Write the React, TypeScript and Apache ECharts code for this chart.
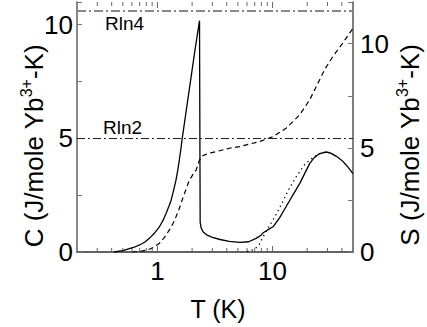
import React, { useEffect, useRef } from "react";
import * as echarts from "echarts";

// ---- Data ----
const cTemps = [0.42, 0.5, 0.57, 0.64, 0.7, 0.78, 0.85, 0.95, 1.04, 1.12, 1.19, 1.26, 1.315, 1.383, 1.448, 1.502, 1.548, 1.597, 1.64, 1.78, 1.94, 2.115, 2.32, 2.35, 2.4, 2.5, 2.7, 3.0, 3.5, 4.2, 5.2, 6.2, 7.2, 8.0, 8.3, 9.0, 10.1, 11.5, 13.1, 15, 17.2, 19, 21, 23, 25.6, 29.3, 32, 35.9, 40, 43.8, 50];
const cValues = [0, 0.06, 0.15, 0.23, 0.31, 0.44, 0.6, 0.85, 1.11, 1.4, 1.71, 2.02, 2.28, 2.72, 3.16, 3.6, 4.04, 4.52, 4.99, 6.23, 7.54, 8.86, 10.18, 1.3, 1.05, 0.88, 0.74, 0.64, 0.55, 0.47, 0.42, 0.45, 0.6, 0.75, 0.85, 0.96, 1.11, 1.5, 1.99, 2.5, 3.01, 3.45, 3.89, 4.15, 4.33, 4.4, 4.35, 4.21, 4.03, 3.82, 3.45];

const dotTemps = [6.0, 7.0, 7.7, 8.3, 9.0, 10, 11, 12.5, 14, 16, 19, 23, 27, 30, 34];
const dotValues = [0.02, 0.12, 0.35, 0.68, 1.0, 1.38, 1.75, 2.3, 2.8, 3.3, 3.85, 4.2, 4.37, 4.4, 4.28];

const sTemps = [0.6, 0.7, 0.82, 0.92, 1.04, 1.15, 1.27, 1.36, 1.45, 1.55, 1.66, 1.78, 1.9, 2.05, 2.17, 2.32, 2.45, 2.56, 2.9, 3.23, 4.23, 5.17, 6.3, 7.7, 10.1, 13.1, 17.2, 21, 25.6, 29, 33.4, 41, 50];
const sValues = [0, 0.02, 0.1, 0.22, 0.42, 0.7, 1.06, 1.35, 1.69, 2.1, 2.58, 3.05, 3.46, 3.75, 3.94, 4.42, 4.6, 4.66, 4.76, 4.82, 4.98, 5.06, 5.18, 5.3, 5.54, 5.94, 6.58, 7.3, 8.26, 8.85, 9.38, 10.05, 10.74];

const RLN4 = 10.6; // on C axis scale (as drawn)
const RLN2 = 5.0;

const xMajorTicks = [1, 10];
const xMinorTicks = [0.3, 0.4, 0.5, 0.6, 0.7, 0.8, 0.9, 2, 3, 4, 5, 6, 7, 8, 9, 20, 30, 40];
const xTickLabels = [1, 10];
const yLabelsLeft = [0, 5, 10];
const yLabelsRight = [0, 5, 10];

const FONT = "'Liberation Sans', Arial, Helvetica, sans-serif";

function zip(a: number[], b: number[]) {
  return a.map((v, i) => [v, b[i]]);
}

export default function App() {
  const ref = useRef<HTMLDivElement>(null);
  useEffect(() => {
    if (!ref.current) return;
    const chart = echarts.init(ref.current, null, { renderer: "svg" });
    const yMaxL = 11;
    const tickData = [
      ...xMajorTicks.map((v) => [v, 1]),
      ...xMinorTicks.map((v) => [v, 0]),
    ];
    const option: any = {
      animation: false,
      grid: { left: 77, right: 74, top: 2, bottom: 75 },
      xAxis: [
        {
          type: "log",
          logBase: 10,
          min: 0.2,
          max: 50,
          position: "bottom",
          axisLine: { lineStyle: { color: "#888", width: 2 } },
          axisTick: { show: false },
          splitLine: { show: false },
          axisLabel: {
            fontSize: 26,
            fontFamily: FONT,
            color: "#000",
            margin: 6,
            formatter: (v: number) => {
              const hit = xTickLabels.find((t) => Math.abs(t - v) < 1e-6);
              return hit !== undefined ? String(hit) : "";
            },
          },
        },
        {
          type: "log",
          logBase: 10,
          min: 0.2,
          max: 50,
          position: "top",
          axisLine: { lineStyle: { color: "#555", width: 1.5 } },
          axisTick: { show: false },
          axisLabel: { show: false },
          splitLine: { show: false },
        },
      ],
      yAxis: [
        {
          type: "value",
          min: 0,
          max: yMaxL,
          interval: 2.5,
          position: "left",
          axisLine: { show: true, lineStyle: { color: "#888", width: 2 } },
          axisTick: { show: true, inside: true, length: 5, lineStyle: { color: "#777", width: 1 } },
          splitLine: { show: false },
          axisLabel: {
            fontSize: 26,
            fontFamily: FONT,
            color: "#000",
            margin: 4,
            formatter: (v: number) => (yLabelsLeft.includes(v) ? String(v) : ""),
          },
        },
        {
          type: "value",
          min: 0,
          max: 12,
          interval: 2.5,
          position: "right",
          axisLine: { show: true, lineStyle: { color: "#555", width: 1.5 } },
          axisTick: { show: true, inside: true, length: 5, lineStyle: { color: "#777", width: 1 } },
          splitLine: { show: false },
          axisLabel: {
            fontSize: 26,
            fontFamily: FONT,
            color: "#000",
            margin: 7,
            formatter: (v: number) => (yLabelsRight.includes(v) ? String(v) : ""),
          },
        },
      ],
      series: [
        {
          type: "line",
          name: "C",
          xAxisIndex: 0,
          yAxisIndex: 0,
          data: zip(cTemps, cValues),
          showSymbol: false,
          symbol: "none",
          lineStyle: { color: "#000", width: 1.3 },
          markLine: {
            silent: true,
            symbol: ["none", "none"],
            label: { show: false },
            data: [
              { yAxis: RLN4, lineStyle: { color: "#888", width: 2, type: [9, 3, 2, 3] } },
              { yAxis: RLN2, lineStyle: { color: "#222", width: 1, type: [8, 3, 2, 3] } },
            ],
          },
        },
        {
          type: "line",
          name: "Cdot",
          xAxisIndex: 0,
          yAxisIndex: 0,
          data: zip(dotTemps, dotValues),
          showSymbol: false,
          symbol: "none",
          lineStyle: { color: "#000", width: 1.3, type: [1.3, 3.5] },
        },
        {
          type: "line",
          name: "S",
          xAxisIndex: 0,
          yAxisIndex: 1,
          data: zip(sTemps, sValues),
          showSymbol: false,
          symbol: "none",
          lineStyle: { color: "#000", width: 1.2, type: [5, 3.5] },
        },
        {
          type: "custom",
          xAxisIndex: 0,
          yAxisIndex: 0,
          silent: true,
          clip: false,
          encode: { x: 0, y: 1 },
          data: tickData,
          renderItem: (params: any, api: any) => {
            const v = api.value(0);
            const major = api.value(1) === 1;
            const b = api.coord([v, 0]);
            const t = api.coord([v, yMaxL]);
            const len = major ? 6 : 4;
            return {
              type: "group",
              children: [
                { type: "line", shape: { x1: b[0], y1: b[1], x2: b[0], y2: b[1] - len }, style: { stroke: "#666", lineWidth: 1 } },
                { type: "line", shape: { x1: t[0], y1: t[1], x2: t[0], y2: t[1] + len }, style: { stroke: "#666", lineWidth: 1 } },
              ],
            };
          },
        },
      ],
      graphic: [
        {
          type: "text",
          x: 105,
          y: 23,
          style: { text: "Rln4", fontSize: 19, fontFamily: FONT, fill: "#000", align: "left", verticalAlign: "middle" },
        },
        {
          type: "text",
          x: 103,
          y: 127,
          style: { text: "Rln2", fontSize: 19, fontFamily: FONT, fill: "#000", align: "left", verticalAlign: "middle" },
        },
        {
          type: "text",
          x: 218,
          y: 309,
          style: { text: "T (K)", fontSize: 25, fontFamily: FONT, fill: "#000", align: "center", verticalAlign: "middle" },
        },
        {
          type: "text",
          x: 34,
          y: 146,
          rotation: Math.PI / 2,
          style: {
            text: "C (J/mole Yb{sup|3+}-K)",
            fontSize: 26,
            fontFamily: FONT,
            fill: "#000",
            align: "center",
            verticalAlign: "middle",
            lineHeight: 32,
            rich: { sup: { fontSize: 16, fontFamily: FONT, fill: "#000", verticalAlign: "top", lineHeight: 16 } },
          },
        },
        {
          type: "text",
          x: 410,
          y: 145,
          rotation: Math.PI / 2,
          style: {
            text: "S (J/mole Yb{sup|3+}-K)",
            fontSize: 26,
            fontFamily: FONT,
            fill: "#000",
            align: "center",
            verticalAlign: "middle",
            lineHeight: 32,
            rich: { sup: { fontSize: 16, fontFamily: FONT, fill: "#000", verticalAlign: "top", lineHeight: 16 } },
          },
        },
      ],
    };
    chart.setOption(option);
    return () => chart.dispose();
  }, []);
  return (
    <div
      ref={ref}
      style={{ position: "absolute", left: 0, top: 0, width: 427, height: 327, background: "#fff" }}
    />
  );
}
